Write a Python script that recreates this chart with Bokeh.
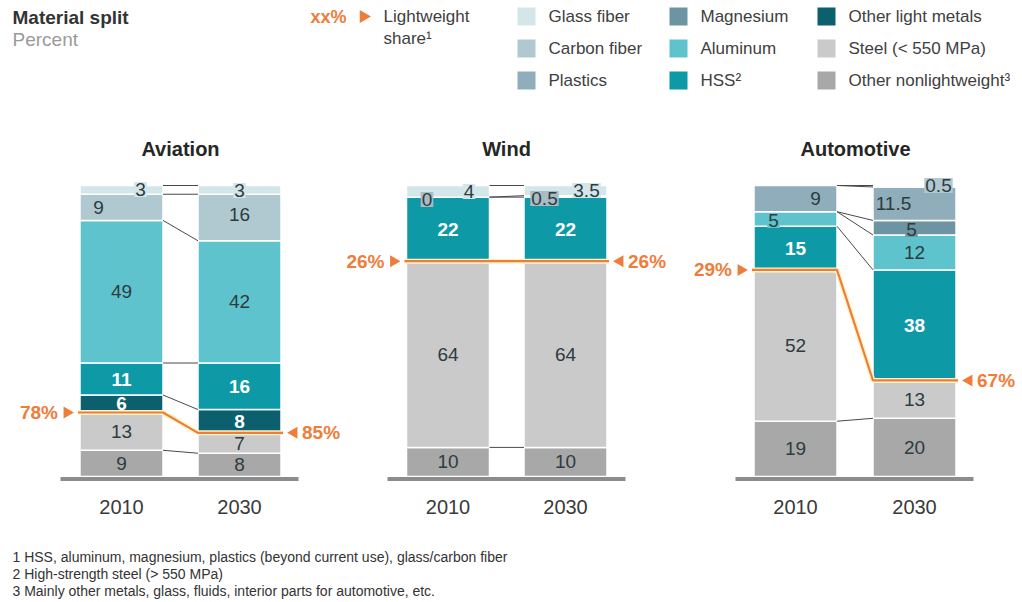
from bokeh.plotting import figure
from bokeh.models import Range1d
from bokeh.embed import file_html
from bokeh.resources import INLINE
from bokeh.core.properties import value
import math

# ---------------- data ----------------
materials = ["Other nonlightweight", "Steel (< 550 MPa)", "Other light metals", "HSS",
             "Aluminum", "Magnesium", "Plastics", "Carbon fiber", "Glass fiber"]
years = ["2010", "2030"]
sectors = ["Aviation", "Wind", "Automotive"]
aviation_2010 = [9, 13, 6, 11, 49, 0, 0, 9, 3]
aviation_2030 = [8, 7, 8, 16, 42, 0, 0, 16, 3]
wind_2010 = [10, 64, 0, 22, 0, 0, 0, 0, 4]
wind_2030 = [10, 64, 0, 22, 0, 0, 0, 0.5, 3.5]
automotive_2010 = [19, 52, 0, 15, 5, 0, 9, 0, 0]
automotive_2030 = [20, 13, 0, 38, 12, 5, 11.5, 0.5, 0]
lightweight_share = {"Aviation": [78, 85], "Wind": [26, 26], "Automotive": [29, 67]}
zero_labels = [("Wind", 0, "Carbon fiber")]
legend_columns = [["Glass fiber", "Carbon fiber", "Plastics"],
                  ["Magnesium", "Aluminum", "HSS"],
                  ["Other light metals", "Steel (< 550 MPa)", "Other nonlightweight"]]
legend_text = {"HSS": "HSS²", "Other nonlightweight": "Other nonlightweight³"}
footnotes = ["1 HSS, aluminum, magnesium, plastics (beyond current use), glass/carbon fiber",
             "2 High-strength steel (> 550 MPa)",
             "3 Mainly other metals, glass, fluids, interior parts for automotive, etc."]

series = {"Aviation": [aviation_2010, aviation_2030],
          "Wind": [wind_2010, wind_2030],
          "Automotive": [automotive_2010, automotive_2030]}

# ---------------- style ----------------
colors = {"Glass fiber": "#d3e6ea", "Carbon fiber": "#b0c9d1", "Plastics": "#8fadba",
          "Magnesium": "#6d94a3", "Aluminum": "#5ec3cc", "HSS": "#0d9aa6",
          "Other light metals": "#0c5f6d", "Steel (< 550 MPa)": "#cacaca",
          "Other nonlightweight": "#a8a8a8"}
white_labels = {"HSS", "Other light metals"}
ORANGE = "#ef7d3a"
DARK = "#2e3b40"
FONT = "Liberation Sans"
LABEL_SIZE = "19px"

W, H = 1022, 602
BASE_PY, PX_PER_PCT = 476.0, 2.91


def Y(py):
    return (BASE_PY - py) / PX_PER_PCT


bar_centers = {"Aviation": (121, 239), "Wind": (447.5, 565), "Automotive": (795, 914)}
panel_center = {"Aviation": 180, "Wind": 506, "Automotive": 855}
baseline_span = {"Aviation": (60, 298), "Wind": (387, 625), "Automotive": (735, 973)}
BW = 83

# label placement overrides: (sector, year index, material) -> (dx px, py px, boxed)
label_pos = {
    ("Aviation", 0, "Glass fiber"): (19, 189, True),
    ("Aviation", 0, "Carbon fiber"): (-23, 207, False),
    ("Aviation", 1, "Glass fiber"): (0, 190, True),
    ("Aviation", 1, "Carbon fiber"): (0, 214, False),
    ("Wind", 0, "Carbon fiber"): (-21, 199, True),
    ("Wind", 0, "Glass fiber"): (21, 191, True),
    ("Wind", 1, "Carbon fiber"): (-21, 198, True),
    ("Wind", 1, "Glass fiber"): (21, 190, True),
    ("Automotive", 0, "Plastics"): (20, 198, False),
    ("Automotive", 0, "Aluminum"): (-22, 220, True),
    ("Automotive", 1, "Carbon fiber"): (24, 185, True),
    ("Automotive", 1, "Plastics"): (-21, 203, False),
    ("Automotive", 1, "Magnesium"): (-3, 229, True),
}

p = figure(width=W, height=H, x_range=Range1d(0, W), y_range=Range1d(Y(H), Y(0)),
           output_backend="svg", toolbar_location=None, min_border=0)
p.axis.visible = False
p.grid.visible = False
p.outline_line_color = None
p.background_fill_color = "white"


def txt(x, py, s, size="16px", color="#404040", style="normal", align="left", font=FONT):
    p.text(x=[x], y=[Y(py)], text=[s], text_font=value(font), text_font_size=size,
           text_color=color, text_font_style=style, text_align=align, text_baseline="middle")


# ---------------- header ----------------
txt(12, 17, "Material split", size="19px", color="#333333", style="bold")
txt(12, 39, "Percent", size="19px", color="#9a9a9a")
txt(310, 16, "xx%", size="18px", color=ORANGE, style="bold")
p.scatter(x=[363], y=[Y(16)], marker="triangle", size=13, angle=-math.pi / 2,
          fill_color=ORANGE, line_color=None)
txt(383, 16, "Lightweight", size="17px")
txt(383, 38, "share¹", size="17px")

legend_x = [517, 669, 817]
legend_y = [16, 48, 80]
for cx, col in zip(legend_x, legend_columns):
    for py, m in zip(legend_y, col):
        p.rect(x=[cx + 9], y=[Y(py)], width=18, height=18 / PX_PER_PCT,
               fill_color=colors[m], line_color=None)
        txt(cx + 31, py, legend_text.get(m, m), size="17px")

# ---------------- panels ----------------
for sec in sectors:
    c = bar_centers[sec]
    data = series[sec]
    cums = []
    for yi in range(2):
        vals = data[yi]
        cum = [0]
        for v in vals:
            cum.append(cum[-1] + v)
        cums.append(cum)
        bottoms, tops, cols = [], [], []
        for i, m in enumerate(materials):
            if vals[i] > 0:
                bottoms.append(cum[i]); tops.append(cum[i + 1]); cols.append(colors[m])
        p.vbar(x=[c[yi]] * len(tops), width=BW, bottom=bottoms, top=tops,
               fill_color=cols, line_color="white", line_width=1.5)

    # connector lines
    x0s, x1s, y0s, y1s = [], [], [], []
    seen = set()
    for i, m in enumerate(materials):
        if m == "Steel (< 550 MPa)":
            continue
        if data[0][i] == 0 and data[1][i] == 0:
            continue
        key = (cums[0][i + 1], cums[1][i + 1])
        if key in seen:
            continue
        seen.add(key)
        x0s.append(c[0] + BW / 2); x1s.append(c[1] - BW / 2)
        y0s.append(key[0]); y1s.append(key[1])
    p.segment(x0=x0s, y0=y0s, x1=x1s, y1=y1s, line_color="#4a4a4a", line_width=1)

    # baseline
    bx0, bx1 = baseline_span[sec]
    p.segment(x0=[bx0], x1=[bx1], y0=[Y(478.5)], y1=[Y(478.5)], line_color="#8c8c8c", line_width=4)

    # lightweight line
    lw = lightweight_share[sec]
    s0, s1 = 100 - lw[0], 100 - lw[1]
    lx = [c[0] - BW / 2 - 2, c[0] + BW / 2, c[1] - BW / 2, c[1] + BW / 2 + 2]
    ly = [s0, s0, s1, s1]
    p.line(x=lx, y=ly, line_color="#fff3c8", line_width=5)
    p.line(x=lx, y=ly, line_color=ORANGE, line_width=2.2)
    p.scatter(x=[c[0] - BW / 2 - 13], y=[s0], marker="triangle", size=12, angle=-math.pi / 2,
              fill_color=ORANGE, line_color=None)
    p.scatter(x=[c[1] + BW / 2 + 13], y=[s1], marker="triangle", size=12, angle=math.pi / 2,
              fill_color=ORANGE, line_color=None)
    p.text(x=[c[0] - BW / 2 - 22], y=[s0], text=[f"{lw[0]}%"], text_font=value(FONT),
           text_font_size="19px", text_font_style="bold", text_color=ORANGE,
           text_align="right", text_baseline="middle")
    p.text(x=[c[1] + BW / 2 + 21], y=[s1], text=[f"{lw[1]}%"], text_font=value(FONT),
           text_font_size="19px", text_font_style="bold", text_color=ORANGE,
           text_align="left", text_baseline="middle")

    # value labels
    for yi in range(2):
        vals = data[yi]
        cum = cums[yi]
        for i, m in enumerate(materials):
            v = vals[i]
            if v == 0 and (sec, yi, m) not in zero_labels:
                continue
            s = str(int(v)) if float(v).is_integer() else str(v)
            x = c[yi]
            y = (cum[i] + cum[i + 1]) / 2
            boxed = False
            if (sec, yi, m) in label_pos:
                dx, py, boxed = label_pos[(sec, yi, m)]
                x = c[yi] + dx
                y = Y(py)
            white = m in white_labels
            kw = dict(x=[x], y=[y], text=[s], text_font=value(FONT), text_font_size=LABEL_SIZE,
                      text_color="white" if white else DARK,
                      text_font_style="bold" if white else "normal",
                      text_align="center", text_baseline="middle")
            if boxed:
                box_col = colors[m] if m != "Carbon fiber" or sec != "Wind" else "#a9bcc3"
                kw.update(background_fill_color=box_col, padding=1)
            p.text(**kw)

    # titles and years
    txt(panel_center[sec], 148, sec, size="20px", color="#262626", style="bold", align="center")
    for yi in range(2):
        txt(c[yi], 506, years[yi], size="20px", color="#3a3a3a", align="center")

# ---------------- footnotes ----------------
for i, f in enumerate(footnotes):
    txt(12, 556 + 17 * i, f, size="14px", color="#333333")

open("out.html", "w").write(file_html(p, INLINE))
